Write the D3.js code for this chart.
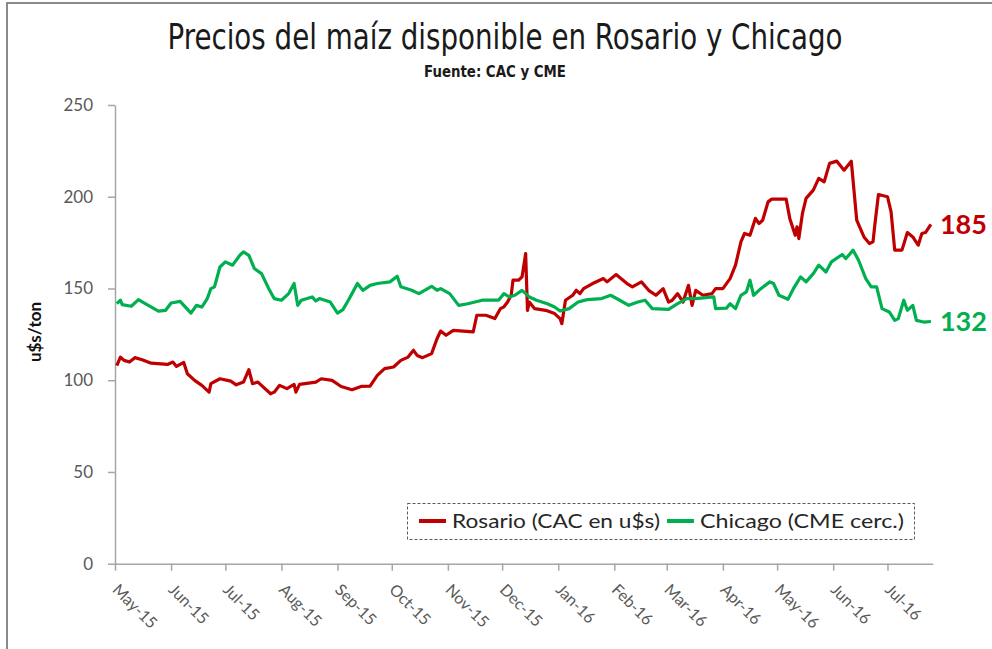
<!DOCTYPE html>
<html>
<head>
<meta charset="utf-8">
<script src="https://cdn.jsdelivr.net/npm/d3@7"></script>
<style>
  body { margin: 0; background: #fff; }
  svg { display: block; }
</style>
</head>
<body>
<div id="chart"></div>
<script>
// chart values (u$s/ton)
const rosarioDates = [
  "2015-05-02","2015-05-04","2015-05-06","2015-05-09","2015-05-12","2015-05-16","2015-05-21","2015-05-30",
  "2015-06-02","2015-06-04","2015-06-08","2015-06-10","2015-06-14","2015-06-18","2015-06-22","2015-06-23",
  "2015-06-28","2015-07-04","2015-07-07","2015-07-11","2015-07-14","2015-07-16","2015-07-19","2015-07-22",
  "2015-07-26","2015-07-28","2015-07-31","2015-08-04","2015-08-08","2015-08-09","2015-08-11","2015-08-20",
  "2015-08-23","2015-08-29","2015-09-03","2015-09-09","2015-09-14","2015-09-19","2015-09-23","2015-09-27",
  "2015-10-02","2015-10-06","2015-10-10","2015-10-13","2015-10-15","2015-10-18","2015-10-23","2015-10-26",
  "2015-10-28","2015-10-31","2015-11-04","2015-11-15","2015-11-17","2015-11-22","2015-11-27","2015-11-30",
  "2015-12-02","2015-12-04","2015-12-06","2015-12-07","2015-12-10","2015-12-12","2015-12-14","2015-12-15",
  "2015-12-16","2015-12-19","2015-12-25","2015-12-30","2016-01-02","2016-01-03","2016-01-04","2016-01-05",
  "2016-01-09","2016-01-11","2016-01-13","2016-01-15","2016-01-20","2016-01-26","2016-01-28","2016-02-02",
  "2016-02-08","2016-02-11","2016-02-16","2016-02-20","2016-02-24","2016-02-28","2016-03-02","2016-03-04",
  "2016-03-07","2016-03-10","2016-03-13","2016-03-15","2016-03-17","2016-03-21","2016-03-26","2016-03-28",
  "2016-04-01","2016-04-05","2016-04-08","2016-04-11","2016-04-13","2016-04-16","2016-04-19","2016-04-21",
  "2016-04-23","2016-04-26","2016-04-28","2016-05-06","2016-05-08","2016-05-11","2016-05-12","2016-05-13",
  "2016-05-15","2016-05-17","2016-05-21","2016-05-24","2016-05-27","2016-05-30","2016-06-03","2016-06-07",
  "2016-06-11","2016-06-14","2016-06-18","2016-06-21","2016-06-23","2016-06-24","2016-06-26","2016-07-01",
  "2016-07-03","2016-07-05","2016-07-09","2016-07-12","2016-07-15","2016-07-18","2016-07-20","2016-07-22",
  "2016-07-25"
];
const rosarioValues = [
  108,112.6,110.8,109.9,112.3,111.2,109.3,108.6,
  109.9,107.5,109.7,103.5,99.9,97.2,93.5,98.1,
  100.8,99.5,97.5,99,105.7,98.1,99,96.2,
  92.6,93.5,97.2,95.4,97.7,93.5,97.7,99,
  100.8,99.9,96.6,94.8,96.6,96.8,102.6,106.3,
  107.2,110.8,112.6,116.3,113.5,112.3,114.5,122.6,
  126.8,124.5,127.2,126.3,135.4,135.4,133.6,139,
  140,142.6,146.3,154.5,154.5,156.3,169,138.1,
  142.6,139,138.1,136.3,133.6,130.8,137.2,143.6,
  146.3,149,147.2,149.9,152.7,155.4,153.6,157.6,
  152.7,150.9,153.6,149,146.3,149.9,142.6,143.6,
  147.2,142.6,151.7,140.8,149,146.3,147.2,149.9,
  149.9,155.4,162.7,175.4,180,179,188.2,185.4,
  187.2,197.2,198.7,198.7,188.2,179,183.6,177.2,
  190.9,199.1,203.6,210,208.1,218.2,219.4,214.5,
  219.4,187.2,178.1,174.5,175.4,184.5,201.2,200,
  191.8,170.9,170.9,180.5,178.1,173.6,180,180.5,
  185
];

const chicagoDates = [
  "2015-05-02","2015-05-04","2015-05-05","2015-05-10","2015-05-14","2015-05-17","2015-05-25","2015-05-29",
  "2015-06-01","2015-06-06","2015-06-12","2015-06-15","2015-06-18","2015-06-21","2015-06-23","2015-06-25",
  "2015-06-28","2015-07-01","2015-07-05","2015-07-09","2015-07-11","2015-07-14","2015-07-17","2015-07-21",
  "2015-07-25","2015-07-28","2015-08-01","2015-08-05","2015-08-08","2015-08-10","2015-08-12","2015-08-18",
  "2015-08-20","2015-08-22","2015-08-28","2015-09-01","2015-09-04","2015-09-07","2015-09-09","2015-09-12",
  "2015-09-15","2015-09-19","2015-09-23","2015-09-30","2015-10-04","2015-10-06","2015-10-12","2015-10-16",
  "2015-10-23","2015-10-26","2015-10-28","2015-11-02","2015-11-07","2015-11-12","2015-11-20","2015-11-29",
  "2015-12-02","2015-12-05","2015-12-08","2015-12-12","2015-12-16","2015-12-20","2015-12-26","2015-12-30",
  "2016-01-02","2016-01-07","2016-01-12","2016-01-17","2016-01-25","2016-01-30","2016-02-04","2016-02-09",
  "2016-02-14","2016-02-18","2016-02-22","2016-03-02","2016-03-07","2016-03-12","2016-03-17","2016-03-27",
  "2016-03-28","2016-04-03","2016-04-05","2016-04-08","2016-04-11","2016-04-14","2016-04-16","2016-04-18",
  "2016-04-22","2016-04-27","2016-04-29","2016-05-02","2016-05-07","2016-05-10","2016-05-14","2016-05-17",
  "2016-05-21","2016-05-24","2016-05-28","2016-05-31","2016-06-06","2016-06-08","2016-06-12","2016-06-15",
  "2016-06-19","2016-06-22","2016-06-25","2016-06-28","2016-07-02","2016-07-05","2016-07-07","2016-07-10",
  "2016-07-12","2016-07-15","2016-07-17","2016-07-21","2016-07-25"
];
const chicagoValues = [
  141.7,143.6,141.2,140.3,143.9,142.1,137.7,138.1,
  142.1,143,136.6,140.8,139.9,144.5,149.9,150.9,
  161.7,164.5,162.7,168.1,169.9,168.1,160.9,158.1,
  149.9,144.5,143.6,147.2,152.7,140.8,143.6,145.4,
  143.2,144.5,142.6,136.6,138.5,143.6,147.2,152.7,
  149,151.7,152.7,153.6,156.7,150.9,149,147.2,
  151.2,149,149.9,147.2,140.8,141.7,143.6,143.6,
  147.2,145.4,146.3,149,145.4,143.6,141.7,139.9,
  137.7,139,142.6,143.9,144.5,146.3,143.6,140.8,
  142.6,143.6,139,138.6,141.7,144.5,144.5,145.4,
  139,139.3,141.7,139,146.3,148.1,154.5,146.3,
  149.9,153.6,152.7,146.3,144.1,149.9,156.3,153.6,
  158.1,162.7,159,164.5,168.5,166.3,170.9,165.4,
  155.4,150.9,150.9,139,137.2,132.6,133.6,143.6,
  138.1,140.8,132.6,131.7,132
];

const yTicks = [0, 50, 100, 150, 200, 250];
const seriesNames = ["Rosario (CAC en u$s)", "Chicago (CME cerc.)"];
const seriesColors = ["#c00000", "#00b050"];
const endLabels = ["185", "132"];

const width = 992, height = 649;
const margin = { top: 105, right: 59.3, bottom: 85.3, left: 115 };

const parse = d3.timeParse("%Y-%m-%d");
const rosario = rosarioDates.map((d, i) => ({ date: parse(d), value: rosarioValues[i] }));
const chicago = chicagoDates.map((d, i) => ({ date: parse(d), value: chicagoValues[i] }));
const series = [rosario, chicago];

const svg = d3.select("#chart").append("svg")
  .attr("width", width)
  .attr("height", height);

// outer frame of the picture
svg.append("path")
  .attr("d", "M7,649 V3 H992")
  .attr("fill", "none")
  .attr("stroke", "#8a8a8a")
  .attr("stroke-width", 2);

const x = d3.scaleTime()
  .domain([parse("2015-05-01"), parse("2016-07-26")])
  .range([margin.left, width - margin.right]);

const y = d3.scaleLinear()
  .domain([0, 250])
  .range([height - margin.bottom, margin.top]);

// title
svg.append("text")
  .attr("x", 505)
  .attr("y", 49)
  .attr("text-anchor", "middle")
  .attr("font-family", "'Liberation Sans Narrow', 'DejaVu Sans Condensed', sans-serif")
  .attr("font-size", 35)
  .attr("font-weight", 500)
  .attr("fill", "#1a1a1a")
  .attr("textLength", 675)
  .attr("lengthAdjust", "spacingAndGlyphs")
  .text("Precios del maíz disponible en Rosario y Chicago");

svg.append("text")
  .attr("x", 495)
  .attr("y", 77)
  .attr("text-anchor", "middle")
  .attr("font-family", "'Liberation Sans Narrow', 'DejaVu Sans Condensed', sans-serif")
  .attr("font-size", 15)
  .attr("font-weight", "bold")
  .attr("fill", "#1a1a1a")
  .attr("textLength", 142)
  .attr("lengthAdjust", "spacingAndGlyphs")
  .text("Fuente: CAC y CME");

// y axis
const yAxis = svg.append("g")
  .attr("transform", `translate(${margin.left},0)`)
  .call(d3.axisLeft(y).tickValues(yTicks).tickSize(7).tickSizeOuter(0).tickPadding(15));
yAxis.select(".domain").attr("stroke", "#a6a6a6").attr("stroke-width", 1.5);
yAxis.selectAll(".tick line").attr("stroke", "#a6a6a6").attr("stroke-width", 1.5);
yAxis.selectAll(".tick text")
  .attr("font-family", "Lato, sans-serif")
  .attr("font-size", 17)
  .attr("fill", "#595959");

svg.append("text")
  .attr("transform", "translate(41,332) rotate(-90)")
  .attr("text-anchor", "middle")
  .attr("font-family", "Lato, sans-serif")
  .attr("font-weight", "bold")
  .attr("font-size", 17)
  .attr("fill", "#111")
  .text("u$s/ton");

// x axis
const months = d3.timeMonth.range(parse("2015-05-01"), parse("2016-07-02"));
const xAxis = svg.append("g")
  .attr("transform", `translate(0,${height - margin.bottom})`)
  .call(d3.axisBottom(x).tickValues(months).tickFormat(d3.timeFormat("%b-%y")).tickSize(7).tickSizeOuter(0));
xAxis.select(".domain").attr("stroke", "#a6a6a6").attr("stroke-width", 1.5);
xAxis.selectAll(".tick line").attr("stroke", "#a6a6a6").attr("stroke-width", 1.5);
xAxis.selectAll(".tick text")
  .attr("font-family", "Lato, sans-serif")
  .attr("font-size", 16)
  .attr("fill", "#595959")
  .attr("text-anchor", "start")
  .attr("transform", "translate(0,23) rotate(45)")
  .attr("x", 0)
  .attr("y", 0)
  .attr("dy", "0.35em");

// lines
const line = d3.line()
  .x(d => x(d.date))
  .y(d => y(d.value));

svg.selectAll(".series")
  .data(series)
  .join("path")
  .attr("class", "series")
  .attr("fill", "none")
  .attr("stroke", (d, i) => seriesColors[i])
  .attr("stroke-width", 3.2)
  .attr("stroke-linejoin", "round")
  .attr("d", line);

// last value labels
svg.selectAll(".endlabel")
  .data(series)
  .join("text")
  .attr("class", "endlabel")
  .attr("x", d => x(d[d.length - 1].date) + 9)
  .attr("y", d => y(d[d.length - 1].value))
  .attr("dy", "0.35em")
  .attr("font-family", "Lato, sans-serif")
  .attr("font-weight", "bold")
  .attr("font-size", 27)
  .attr("fill", (d, i) => seriesColors[i])
  .text((d, i) => endLabels[i]);

// legend
const legend = svg.append("g");
legend.append("rect")
  .attr("x", 407.5)
  .attr("y", 503.5)
  .attr("width", 507)
  .attr("height", 36)
  .attr("fill", "#fff")
  .attr("stroke", "#595959")
  .attr("stroke-dasharray", "3,2");

const legendX = [419, 667];
const legendTextWidth = [208, 204];
seriesNames.forEach((name, i) => {
  legend.append("line")
    .attr("x1", legendX[i]).attr("x2", legendX[i] + 27)
    .attr("y1", 521).attr("y2", 521)
    .attr("stroke", seriesColors[i])
    .attr("stroke-width", 4);
  legend.append("text")
    .attr("x", legendX[i] + 33)
    .attr("y", 521)
    .attr("dy", "0.35em")
    .attr("font-family", "Lato, sans-serif")
    .attr("font-size", 20)
    .attr("fill", "#262626")
    .attr("textLength", legendTextWidth[i])
    .attr("lengthAdjust", "spacingAndGlyphs")
    .text(name);
});
</script>
</body>
</html>
